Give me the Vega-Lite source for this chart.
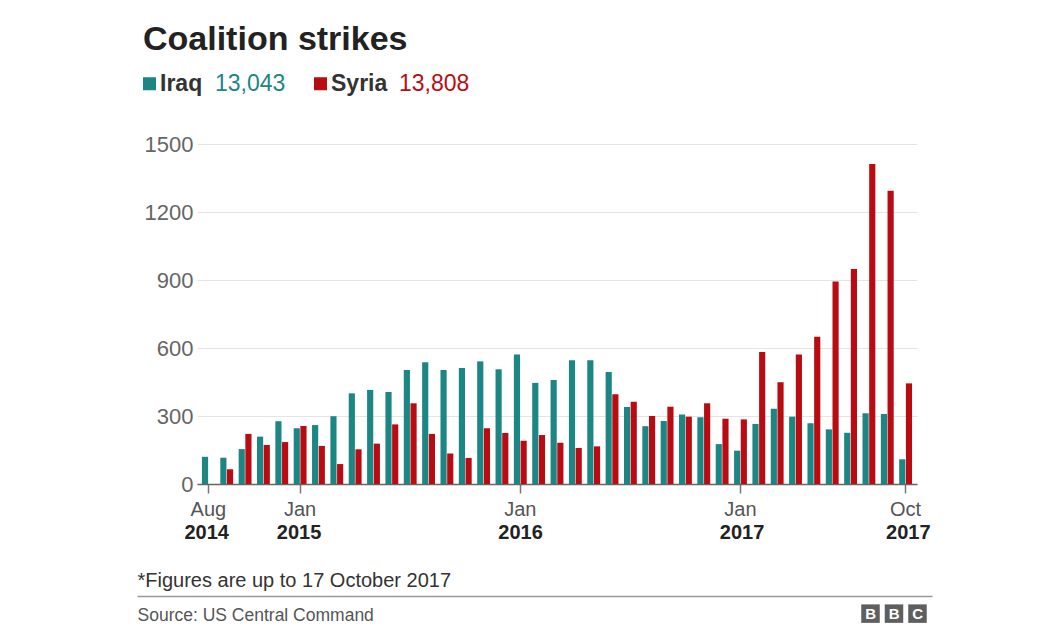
{
  "$schema": "https://vega.github.io/schema/vega-lite/v6.json",
  "width": 720,
  "height": 340,
  "autosize": {"type": "none"},
  "padding": {"left": 197, "top": 144, "right": 127, "bottom": 147},
  "background": "white",
  "config": {"font": "Liberation Sans", "view": {"stroke": null}},
  "title": {
    "text": "Coalition strikes",
    "anchor": "start",
    "frame": "group",
    "dx": -54,
    "dy": 12,
    "fontSize": 34,
    "fontWeight": "bold",
    "color": "#222222",
    "font": "Liberation Sans",
    "baseline": "alphabetic",
    "offset": 0
  },
  "data": {
    "values": [
      {"month": "2014-08", "country": "Iraq", "strikes": 120}, {"month": "2014-08", "country": "Syria", "strikes": 0},
      {"month": "2014-09", "country": "Iraq", "strikes": 116}, {"month": "2014-09", "country": "Syria", "strikes": 65},
      {"month": "2014-10", "country": "Iraq", "strikes": 154}, {"month": "2014-10", "country": "Syria", "strikes": 221},
      {"month": "2014-11", "country": "Iraq", "strikes": 209}, {"month": "2014-11", "country": "Syria", "strikes": 172},
      {"month": "2014-12", "country": "Iraq", "strikes": 277}, {"month": "2014-12", "country": "Syria", "strikes": 185},
      {"month": "2015-01", "country": "Iraq", "strikes": 246}, {"month": "2015-01", "country": "Syria", "strikes": 256},
      {"month": "2015-02", "country": "Iraq", "strikes": 260}, {"month": "2015-02", "country": "Syria", "strikes": 168},
      {"month": "2015-03", "country": "Iraq", "strikes": 299}, {"month": "2015-03", "country": "Syria", "strikes": 88},
      {"month": "2015-04", "country": "Iraq", "strikes": 400}, {"month": "2015-04", "country": "Syria", "strikes": 153},
      {"month": "2015-05", "country": "Iraq", "strikes": 415}, {"month": "2015-05", "country": "Syria", "strikes": 178},
      {"month": "2015-06", "country": "Iraq", "strikes": 406}, {"month": "2015-06", "country": "Syria", "strikes": 263},
      {"month": "2015-07", "country": "Iraq", "strikes": 503}, {"month": "2015-07", "country": "Syria", "strikes": 356},
      {"month": "2015-08", "country": "Iraq", "strikes": 537}, {"month": "2015-08", "country": "Syria", "strikes": 221},
      {"month": "2015-09", "country": "Iraq", "strikes": 503}, {"month": "2015-09", "country": "Syria", "strikes": 135},
      {"month": "2015-10", "country": "Iraq", "strikes": 512}, {"month": "2015-10", "country": "Syria", "strikes": 115},
      {"month": "2015-11", "country": "Iraq", "strikes": 541}, {"month": "2015-11", "country": "Syria", "strikes": 246},
      {"month": "2015-12", "country": "Iraq", "strikes": 506}, {"month": "2015-12", "country": "Syria", "strikes": 225},
      {"month": "2016-01", "country": "Iraq", "strikes": 571}, {"month": "2016-01", "country": "Syria", "strikes": 191},
      {"month": "2016-02", "country": "Iraq", "strikes": 446}, {"month": "2016-02", "country": "Syria", "strikes": 216},
      {"month": "2016-03", "country": "Iraq", "strikes": 459}, {"month": "2016-03", "country": "Syria", "strikes": 182},
      {"month": "2016-04", "country": "Iraq", "strikes": 546}, {"month": "2016-04", "country": "Syria", "strikes": 159},
      {"month": "2016-05", "country": "Iraq", "strikes": 546}, {"month": "2016-05", "country": "Syria", "strikes": 166},
      {"month": "2016-06", "country": "Iraq", "strikes": 494}, {"month": "2016-06", "country": "Syria", "strikes": 396},
      {"month": "2016-07", "country": "Iraq", "strikes": 340}, {"month": "2016-07", "country": "Syria", "strikes": 363},
      {"month": "2016-08", "country": "Iraq", "strikes": 255}, {"month": "2016-08", "country": "Syria", "strikes": 300},
      {"month": "2016-09", "country": "Iraq", "strikes": 278}, {"month": "2016-09", "country": "Syria", "strikes": 341},
      {"month": "2016-10", "country": "Iraq", "strikes": 307}, {"month": "2016-10", "country": "Syria", "strikes": 297},
      {"month": "2016-11", "country": "Iraq", "strikes": 294}, {"month": "2016-11", "country": "Syria", "strikes": 356},
      {"month": "2016-12", "country": "Iraq", "strikes": 176}, {"month": "2016-12", "country": "Syria", "strikes": 288},
      {"month": "2017-01", "country": "Iraq", "strikes": 147}, {"month": "2017-01", "country": "Syria", "strikes": 285},
      {"month": "2017-02", "country": "Iraq", "strikes": 265}, {"month": "2017-02", "country": "Syria", "strikes": 582},
      {"month": "2017-03", "country": "Iraq", "strikes": 332}, {"month": "2017-03", "country": "Syria", "strikes": 449},
      {"month": "2017-04", "country": "Iraq", "strikes": 297}, {"month": "2017-04", "country": "Syria", "strikes": 571},
      {"month": "2017-05", "country": "Iraq", "strikes": 268}, {"month": "2017-05", "country": "Syria", "strikes": 650},
      {"month": "2017-06", "country": "Iraq", "strikes": 241}, {"month": "2017-06", "country": "Syria", "strikes": 893},
      {"month": "2017-07", "country": "Iraq", "strikes": 226}, {"month": "2017-07", "country": "Syria", "strikes": 949},
      {"month": "2017-08", "country": "Iraq", "strikes": 312}, {"month": "2017-08", "country": "Syria", "strikes": 1412},
      {"month": "2017-09", "country": "Iraq", "strikes": 309}, {"month": "2017-09", "country": "Syria", "strikes": 1294},
      {"month": "2017-10", "country": "Iraq", "strikes": 109}, {"month": "2017-10", "country": "Syria", "strikes": 444}
    ]
  },
  "layer": [
    {
      "mark": {"type": "bar"},
      "encoding": {
        "x": {
          "field": "month",
          "type": "ordinal",
          "scale": {"paddingInner": 0.3, "paddingOuter": 0.27},
          "axis": {
            "orient": "bottom",
            "values": ["2014-08", "2015-01", "2016-01", "2017-01", "2017-10"],
            "labelExpr": "slice(datum.value,5) == '01' ? 'Jan' : (slice(datum.value,5) == '08' ? 'Aug' : 'Oct')",
            "title": null,
            "labelAngle": 0,
            "labelFontSize": 20,
            "labelColor": "#555555",
            "labelPadding": 6,
            "tickSize": 9,
            "tickColor": "#777777",
            "tickWidth": 1.5,
            "domainColor": "#666666",
            "domainWidth": 1.5,
            "grid": false
          }
        },
        "xOffset": {"field": "country", "type": "nominal", "scale": {"paddingInner": 0.08}},
        "y": {
          "field": "strikes",
          "type": "quantitative",
          "scale": {"domain": [0, 1500]},
          "axis": {
            "values": [0, 300, 600, 900, 1200, 1500],
            "format": "d",
            "title": null,
            "domain": false,
            "ticks": false,
            "labelFontSize": 22,
            "labelColor": "#666666",
            "labelPadding": 4,
            "gridColor": "#e4e4e4",
            "gridWidth": 1
          }
        },
        "color": {
          "field": "country",
          "type": "nominal",
          "scale": {"range": ["#1b8683", "#b80c12"]},
          "legend": {
            "orient": "none",
            "legendX": -59,
            "legendY": -72,
            "direction": "horizontal",
            "title": null,
            "padding": 0,
            "symbolType": "square",
            "symbolSize": 169,
            "symbolStrokeWidth": 0,
            "labelFontSize": 23,
            "labelFontWeight": "bold",
            "labelColor": "#333333",
            "labelOffset": -1,
            "columnPadding": 106
          }
        }
      }
    },
    {
      "transform": [{"filter": "datum.country == 'Iraq'"}],
      "mark": {"type": "point", "size": 0, "strokeWidth": 0, "opacity": 0},
      "encoding": {
        "x": {
          "field": "month",
          "type": "ordinal",
          "scale": {"paddingInner": 0.3, "paddingOuter": 0.27},
          "axis": {
            "orient": "bottom",
            "values": ["2014-08", "2015-01", "2016-01", "2017-01", "2017-10"],
            "labelExpr": "slice(datum.value,0,4)",
            "labelAngle": 0,
            "domain": false,
            "ticks": false,
            "tickSize": 0,
            "labelPadding": 38,
            "labelFontSize": 20,
            "labelFontWeight": "bold",
            "labelColor": "#222222",
            "grid": false,
            "title": "*Figures are up to 17 October  2017",
            "titleFontSize": 20,
            "titleFontWeight": "normal",
            "titleColor": "#333333",
            "titleAlign": "left",
            "titleAnchor": "start",
            "titleX": -60,
            "titleY": 102,
            "titleBaseline": "alphabetic"
          }
        },
        "opacity": {
          "field": "country",
          "type": "nominal",
          "scale": {"range": [0]},
          "legend": {
            "orient": "none",
            "legendX": -5,
            "legendY": -72,
            "title": null,
            "padding": 0,
            "symbolSize": 0,
            "symbolOpacity": 0,
            "labelOffset": 0,
            "labelFontSize": 23,
            "labelExpr": "'13,043'",
            "labelColor": "#1b8683"
          }
        }
      }
    },
    {
      "transform": [{"filter": "datum.country == 'Syria'"}],
      "mark": {"type": "point", "size": 0, "strokeWidth": 0, "opacity": 0},
      "encoding": {
        "opacity": {
          "field": "country",
          "type": "nominal",
          "scale": {"range": [0]},
          "legend": {
            "orient": "none",
            "legendX": 179,
            "legendY": -72,
            "title": null,
            "padding": 0,
            "symbolSize": 0,
            "symbolOpacity": 0,
            "labelOffset": 0,
            "labelFontSize": 23,
            "labelExpr": "'13,808'",
            "labelColor": "#b80c12"
          }
        }
      }
    },
    {
      "data": {"values": [{"logo": "B1", "p": 0}, {"logo": "B2", "p": 0.5}, {"logo": "C", "p": 1}]},
      "mark": {"type": "point", "filled": true, "size": 0, "color": "#5f5f5f"},
      "encoding": {
        "x": {
          "field": "p",
          "type": "quantitative",
          "scale": {"domain": [0, 1], "range": [-60, 735]},
          "axis": {
            "orient": "bottom",
            "offset": 112,
            "domain": true,
            "domainColor": "#999999",
            "domainWidth": 1.5,
            "ticks": false,
            "labels": false,
            "grid": false,
            "title": "Source: US Central Command",
            "titleFontSize": 17.5,
            "titleFontWeight": "normal",
            "titleColor": "#555555",
            "titleAlign": "left",
            "titleAnchor": "start",
            "titleX": -60,
            "titleY": 24,
            "titleBaseline": "alphabetic"
          }
        },
        "shape": {
          "field": "logo",
          "type": "nominal",
          "scale": {"range": ["square", "square", "square"]},
          "legend": {
            "orient": "none",
            "legendX": 664,
            "legendY": 460,
            "direction": "horizontal",
            "title": null,
            "padding": 0,
            "symbolSize": 342,
            "symbolFillColor": "#5f5f5f",
            "symbolStrokeWidth": 0,
            "symbolOpacity": 1,
            "labelExpr": "slice(datum.label,0,1)",
            "labelAlign": "center",
            "labelOffset": -9.25,
            "labelFontSize": 15,
            "labelFontWeight": "bold",
            "labelColor": "white",
            "columnPadding": 4.5
          }
        }
      }
    }
  ],
  "resolve": {
    "scale": {"x": "independent", "opacity": "independent"},
    "axis": {"x": "independent"},
    "legend": {"opacity": "independent"}
  }
}
